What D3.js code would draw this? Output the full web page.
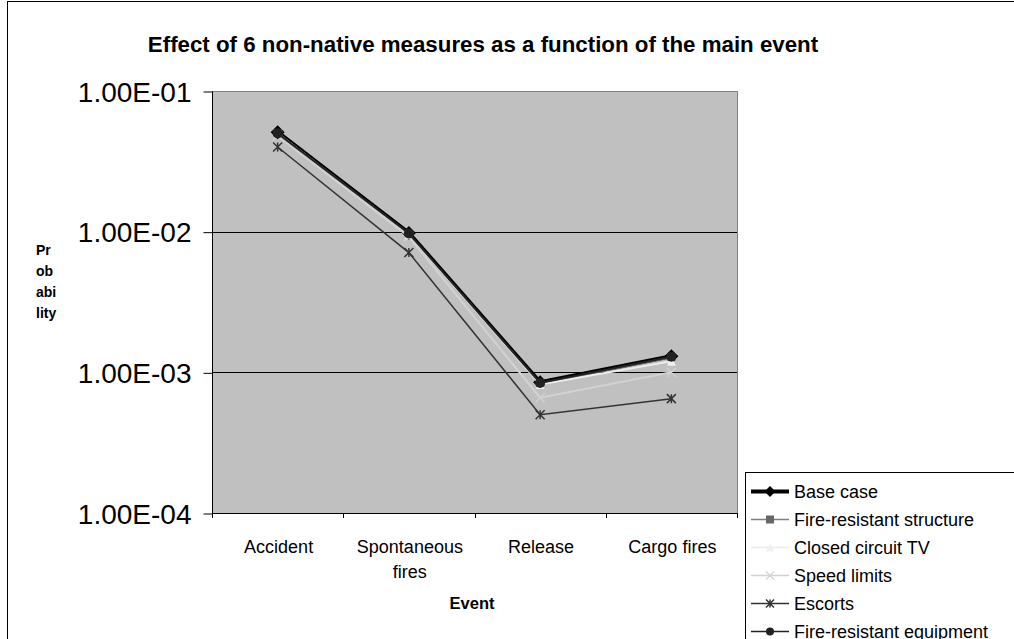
<!DOCTYPE html>
<html><head><meta charset="utf-8">
<script src="https://cdn.jsdelivr.net/npm/d3@7"></script>
<style>html,body{margin:0;padding:0;background:#fff;overflow:hidden}svg{display:block;font-family:"Liberation Sans",Arial,sans-serif}</style>
</head><body>
<svg id="c" width="1014" height="639"></svg>
<script>
const categories = ["Accident", "Spontaneous fires", "Release", "Cargo fires"];
const categoryLines = [["Accident"], ["Spontaneous", "fires"], ["Release"], ["Cargo fires"]];
const seriesNames = ["Base case", "Fire-resistant structure", "Closed circuit TV", "Speed limits", "Escorts", "Fire-resistant equipment"];
const baseCase = [5.1e-2, 9.8e-3, 8.5e-4, 1.3e-3];
const fireStructure = [5.0e-2, 9.6e-3, 8.3e-4, 1.28e-3];
const cctv = [5.0e-2, 9.5e-3, 8.2e-4, 1.2e-3];
const speedLimits = [4.8e-2, 9.2e-3, 6.6e-4, 1.0e-3];
const escorts = [4.0e-2, 7.1e-3, 5.0e-4, 6.5e-4];
const fireEquipment = [5.0e-2, 9.7e-3, 8.4e-4, 1.29e-3];
const yTicks = [1e-1, 1e-2, 1e-3, 1e-4];
const yTickLabels = ["1.00E-01", "1.00E-02", "1.00E-03", "1.00E-04"];

const seriesValues = [baseCase, fireStructure, cctv, speedLimits, escorts, fireEquipment];
const styles = [
  {stroke:"#000", w:4, marker:"diamond", fill:"#000", size:14},
  {stroke:"#808080", w:2, marker:"square", fill:"#666", size:8},
  {stroke:"#ececec", w:2, marker:"triangle", fill:"#f0f0f0", size:9},
  {stroke:"#d2d2d2", w:2, marker:"x", fill:"#d2d2d2", size:9},
  {stroke:"#333", w:1.5, marker:"star", fill:"#333", size:9},
  {stroke:"#222", w:2, marker:"circle", fill:"#222", size:10}
];

const svg = d3.select("#c");
const L = 212, R = 737, T = 91, B = 513;
const x = d3.scaleBand().domain(categories).range([L, R]);
const y = d3.scaleLog().domain([1e-4, 1e-1]).range([B, T]);

// outer frame
svg.append("rect").attr("x", 7.5).attr("y", 1.5).attr("width", 1200).attr("height", 800)
  .attr("fill", "#fff").attr("stroke", "#000").attr("stroke-width", 1);

// title
svg.append("text").attr("x", 483).attr("y", 52).attr("text-anchor", "middle")
  .attr("font-weight", "bold").attr("font-size", 22.3)
  .text("Effect of 6 non-native measures as a function of the main event");

// plot area
svg.append("rect").attr("x", L).attr("y", T).attr("width", R - L).attr("height", B - T).attr("fill", "#c0c0c0");
svg.append("path").attr("d", `M${L},${T}.5H${R}.5V${B}`).attr("fill", "none").attr("stroke", "#808080");

// gridlines
svg.append("g").selectAll("line").data(yTicks.filter(d => d < 1e-1 && d > 1e-4)).join("line")
  .attr("x1", L).attr("x2", R).attr("y1", d => Math.round(y(d)) + 0.5).attr("y2", d => Math.round(y(d)) + 0.5)
  .attr("stroke", "#000");

// y axis
const yAxis = d3.axisLeft(y).tickValues(yTicks).tickSize(9).tickPadding(12)
  .tickFormat((d, i) => yTickLabels[i]);
const gy = svg.append("g").attr("transform", `translate(${L + 0.5},0.5)`).call(yAxis);
gy.select(".domain").attr("d", `M-0,${T}V${B}`);
gy.selectAll("text").attr("font-size", 28).attr("font-family", "Liberation Sans, Arial, sans-serif").attr("fill", "#000").attr("dy", "0.35em");
gy.selectAll("line").attr("stroke", "#000");

// x axis
svg.append("line").attr("x1", L).attr("x2", R + 1).attr("y1", B + 0.5).attr("y2", B + 0.5).attr("stroke", "#000");
const edges = categories.map(c => x(c)).concat([x(categories[categories.length - 1]) + x.bandwidth()]);
svg.append("g").selectAll("line").data(edges).join("line")
  .attr("x1", d => Math.round(d) + 0.5).attr("x2", d => Math.round(d) + 0.5)
  .attr("y1", B).attr("y2", B + 5).attr("stroke", "#000");
const xl = svg.append("g").selectAll("text").data(categories).join("text")
  .attr("x", d => x(d) + x.bandwidth() / 2 + 1).attr("y", 553)
  .attr("text-anchor", "middle").attr("font-size", 18);
xl.each(function (d, i) {
  const t = d3.select(this);
  categoryLines[i].forEach((ln, j) => t.append("tspan").attr("x", x(d) + x.bandwidth() / 2 + 1).attr("dy", j ? 25 : 0).text(ln));
});

// axis titles
svg.append("text").attr("x", 472).attr("y", 609).attr("text-anchor", "middle")
  .attr("font-weight", "bold").attr("font-size", 16.5).text("Event");
const yt = svg.append("text").attr("font-weight", "bold").attr("font-size", 14);
["Pr", "ob", "abi", "lity"].forEach((s, i) => yt.append("tspan").attr("x", 36).attr("y", 255 + i * 21).text(s));

// markers
function drawMarker(g, type, cx, cy, st) {
  const s = st.size;
  if (type === "diamond") g.append("path").attr("d", `M${cx},${cy - s / 2}L${cx + s / 2},${cy}L${cx},${cy + s / 2}L${cx - s / 2},${cy}Z`).attr("fill", st.fill);
  else if (type === "square") g.append("rect").attr("x", cx - s / 2).attr("y", cy - s / 2).attr("width", s).attr("height", s).attr("fill", st.fill);
  else if (type === "triangle") g.append("path").attr("d", `M${cx},${cy - s / 2}L${cx + s / 2},${cy + s / 2}L${cx - s / 2},${cy + s / 2}Z`).attr("fill", st.fill);
  else if (type === "circle") g.append("circle").attr("cx", cx).attr("cy", cy).attr("r", s / 2).attr("fill", st.fill);
  else if (type === "x") g.append("path").attr("d", `M${cx - s / 2},${cy - s / 2}L${cx + s / 2},${cy + s / 2}M${cx - s / 2},${cy + s / 2}L${cx + s / 2},${cy - s / 2}`).attr("stroke", st.fill).attr("stroke-width", 1.2);
  else if (type === "star") g.append("path").attr("d", `M${cx - s / 2},${cy - s / 2}L${cx + s / 2},${cy + s / 2}M${cx - s / 2},${cy + s / 2}L${cx + s / 2},${cy - s / 2}M${cx},${cy - s / 2}L${cx},${cy + s / 2}`).attr("stroke", st.fill).attr("stroke-width", 1.5);
}

// series
const line = d3.line().x((d, i) => x(categories[i]) + x.bandwidth() / 2).y(d => y(d));
seriesValues.forEach((vals, k) => {
  const st = styles[k];
  const g = svg.append("g");
  g.append("path").attr("d", line(vals)).attr("fill", "none").attr("stroke", st.stroke).attr("stroke-width", st.w);
  vals.forEach((v, i) => drawMarker(g, st.marker, x(categories[i]) + x.bandwidth() / 2, y(v), st));
});

// legend
const lg = svg.append("g");
lg.append("rect").attr("x", 745.5).attr("y", 472.5).attr("width", 400).attr("height", 300).attr("fill", "#fff").attr("stroke", "#000");
seriesNames.forEach((n, k) => {
  const st = styles[k];
  const cy = 491.5 + k * 28;
  lg.append("line").attr("x1", 751).attr("x2", 789).attr("y1", cy).attr("y2", cy).attr("stroke", st.stroke).attr("stroke-width", k === 0 ? 4 : (st.w > 1.5 ? 1.5 : st.w));
  drawMarker(lg, st.marker, 770, cy, Object.assign({}, st, {size: k === 0 ? 11 : 8}));
  lg.append("text").attr("x", 794).attr("y", cy).attr("dy", "0.36em").attr("font-size", 18).text(n);
});
</script>
</body></html>
